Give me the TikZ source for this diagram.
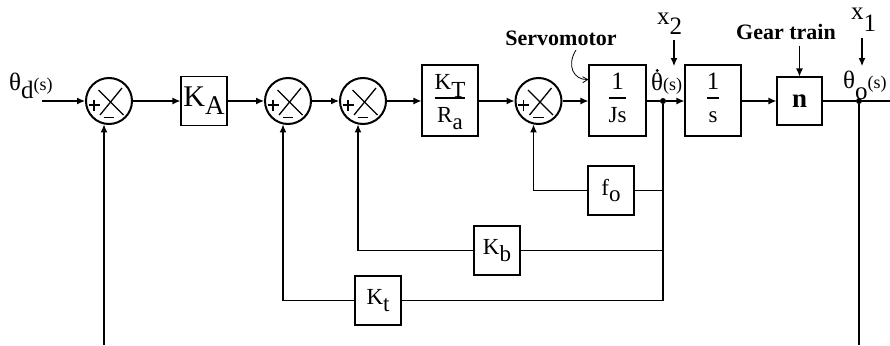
\documentclass[tikz,border=0pt]{standalone}
\usepackage{fontspec}
\setmainfont{Liberation Serif}
\usetikzlibrary{arrows.meta,calc}
\setlength\arrayrulewidth{1.3pt}
\newcommand\frc[2]{\raisebox{-3pt}{\begin{tabular}{@{}c@{}}#1\\[0pt]\hline\rule{0pt}{24pt}#2\end{tabular}}}
\newcommand\sml[1]{{\fontsize{18}{18}\selectfont #1}}
\begin{document}
\begin{tikzpicture}[x=1pt,y=-1pt,
  every node/.style={font=\fontsize{23}{27}\selectfont, inner sep=0pt},
  blk/.style={draw, line width=1.2pt, minimum width=46pt, minimum height=49pt},
  tall/.style={blk, minimum width=56pt, minimum height=71pt},
  sumj/.style={circle, draw, line width=2pt, minimum size=46pt, path picture={
     \draw[line width=1.3pt] ([shift={(-10.5pt,11pt)}]path picture bounding box.center) -- ([shift={(14.5pt,-14pt)}]path picture bounding box.center);
     \draw[line width=1.3pt] ([shift={(13pt,13pt)}]path picture bounding box.center) -- ([shift={(-9pt,-14pt)}]path picture bounding box.center);
     \draw[line width=1.1pt] ([shift={(-20.5pt,-4pt)}]path picture bounding box.center) -- ([shift={(-9.5pt,-4pt)}]path picture bounding box.center);
     \draw[line width=1.1pt] ([shift={(-15pt,1.5pt)}]path picture bounding box.center) -- ([shift={(-15pt,-9.5pt)}]path picture bounding box.center);
     \draw[line width=1.3pt] ([shift={(-5.5pt,-16.5pt)}]path picture bounding box.center) -- ([shift={(5pt,-16.5pt)}]path picture bounding box.center);
  }},
  ln/.style={line width=1.2pt},
  arr/.style={ln, -{Latex[length=8pt,width=7pt]}},
  dotn/.style={circle, fill, minimum size=6pt, inner sep=0pt},
  lbl/.style={font=\fontsize{22}{26}\selectfont\bfseries},
  big/.style={font=\fontsize{25}{28}\selectfont}
]
\useasboundingbox (0,0) rectangle (890,345);
\coordinate (bot) at (0,345);
\coordinate (in) at (42,101);
\coordinate (rend) at (890,101);

% main chain
\node[sumj] (s1) at (109,101) {};
\node[blk, minimum height=49pt] (KA) at (204,101) {\fontsize{30}{32}\selectfont K\raisebox{-8pt}{\fontsize{27}{30}\selectfont A}};
\node[sumj] (s2) at (288,101) {};
\node[sumj] (s3) at (363,101) {};
\node[tall] (KT) at (450,100.5) {\frc{K\raisebox{-8pt}{T}}{R\raisebox{-7pt}{a}}};
\node[sumj] (s4) at (538.5,101) {};
\node[tall, minimum width=57pt] (Js) at (617.5,100.5) {\frc{\fontsize{25}{28}\selectfont 1}{Js}};
\node[dotn] (d1) at (663,101) {};
\node[tall] (S) at (713,100.5) {\frc{\fontsize{25}{28}\selectfont 1}{s}};
\node[blk, minimum width=45pt, minimum height=48pt] (n) at (799.5,101) {\fontsize{27}{30}\selectfont\bfseries n};
\node[dotn] (d2) at (859,101) {};

% feedback blocks
\node[blk] (fo) at (611,190.5) {f\raisebox{-6pt}{o}};
\node[blk] (Kb) at (497,250.5) {K\raisebox{-7pt}{b}};
\node[blk] (Kt) at (378,300.5) {K\raisebox{-7pt}{t}};

% labels
\node[big, anchor=base west] (thd) at (9,90) {θ\raisebox{-8pt}{d}\sml{(s)}};
\node[big, anchor=base west] (thdot) at (651,90) {θ\sml{(s)}};
\fill ($(thdot.base west)+(6.3,-19.5)$) circle (1.6);
\node[big, anchor=base west] (tho) at (843,88) {θ\raisebox{-11pt}{o}\sml{(s)}};
\node[big, anchor=base west] (x2) at (657,25) {x\raisebox{-10pt}{2}};
\node[big, anchor=base west] (x1) at (851,20) {x\raisebox{-12pt}{1}};
\node[lbl] (servo) at (561,38) {Servomotor};
\node[lbl] (gear) at (786,32) {Gear train};

\coordinate (x2a) at (674,40);
\coordinate (x2b) at (674,66);
\coordinate (x1a) at (862,38);
\coordinate (x1b) at (862,66);
\coordinate (gta) at (799.5,46);
\coordinate (sva) at (576,50);

% forward path
\draw[arr] (in) -- (s1);
\draw[arr] (s1) -- (KA);
\draw[arr] (KA) -- (s2);
\draw[arr] (s2) -- (s3);
\draw[arr] (s3) -- (KT.west |- s3);
\draw[arr] (KT.east |- s4) -- (s4);
\draw[arr] (s4) -- (Js.west |- s4);
\draw[ln] (Js.east |- d1) -- (d1);
\draw[arr] (d1) -- (S.west |- d1);
\draw[arr] (S.east |- n) -- (n);
\draw[ln] (n) -- (d2) -- (rend);

% feedback paths
\draw[ln] (d1) -- (d1 |- Kt);
\draw[ln] (d1 |- fo) -- (fo);
\draw[arr] (fo) -| (s4.258);
\draw[ln] (d1 |- Kb) -- (Kb);
\draw[arr] (Kb) -| (s3.258);
\draw[ln] (d1 |- Kt) -- (Kt);
\draw[arr] (Kt) -| (s2.258);
\draw[ln] (d2) -- (d2 |- bot);
\draw[arr] (s1.258 |- bot) -- (s1.258);

% input arrows
\draw[arr] (x2a) -- (x2b);
\draw[arr] (x1a) -- (x1b);
\draw[arr] (gta) -- (n);
\draw[line width=0.8pt, -{Straight Barb[length=5pt,width=6pt]}] (sva) .. controls (566,66) and (574,80) .. ([yshift=21pt]Js.west);
\end{tikzpicture}
\end{document}
